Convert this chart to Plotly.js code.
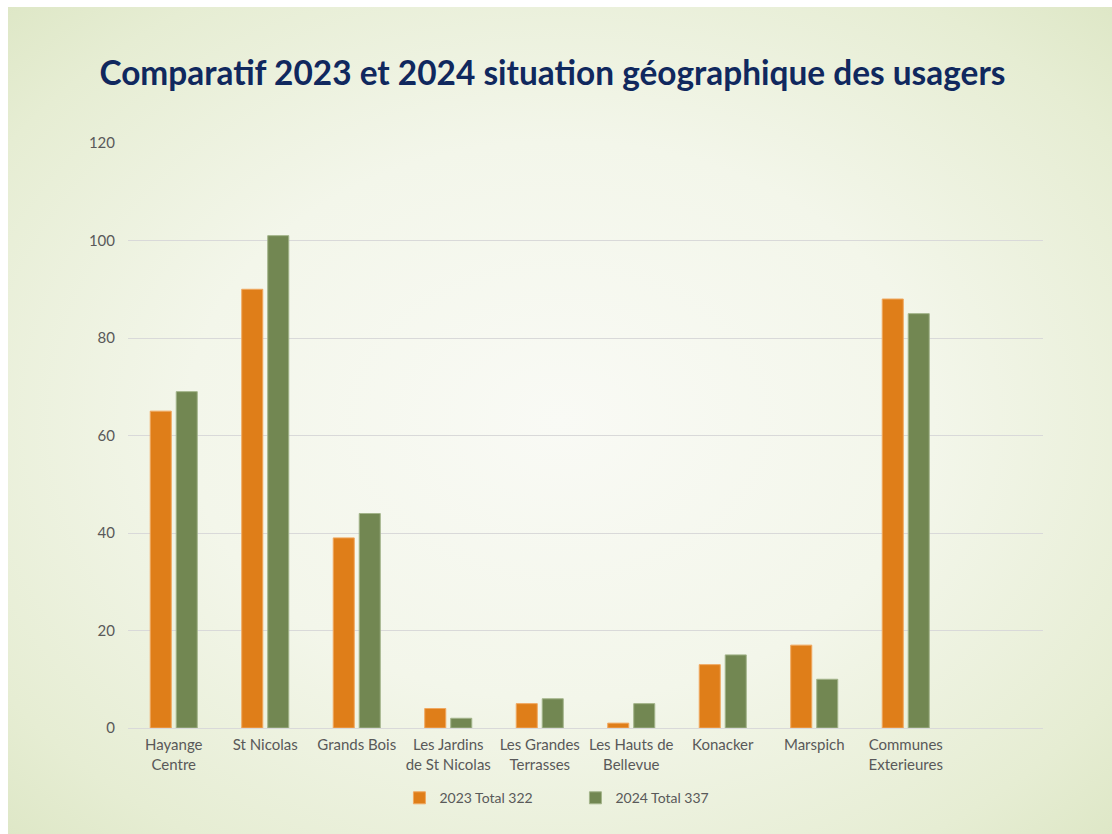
<!DOCTYPE html>
<html>
<head>
<meta charset="utf-8">
<script src="https://cdn.plot.ly/plotly-3.0.1.min.js"></script>
<style>
html, body { margin: 0; padding: 0; background: #ffffff; width: 1112px; height: 834px; overflow: hidden; }
#bg { position: absolute; left: 8px; top: 7px; width: 1104px; height: 827px;
  background: radial-gradient(ellipse 75% 75% at 50% 50%, #f9faf5 0%, #f3f6ea 45%, #e6edd3 80%, #dbe5c2 100%); }
#chart { position: absolute; left: 0; top: 0; width: 1112px; height: 834px; }
</style>
</head>
<body>
<div id="bg"></div>
<div id="chart"></div>
<script>
const categories = ["Hayange<br>Centre", "St Nicolas", "Grands Bois", "Les Jardins<br>de St Nicolas", "Les Grandes<br>Terrasses", "Les Hauts de<br>Bellevue", "Konacker", "Marspich", "Communes<br>Exterieures"];
const values2023 = [65, 90, 39, 4, 5, 1, 13, 17, 88];
const values2024 = [69, 101, 44, 2, 6, 5, 15, 10, 85];
const seriesNames = ["2023 Total 322", "2024 Total 337"];
const yTicks = [0, 20, 40, 60, 80, 100, 120];

const traces = [
  { type: "bar", name: seriesNames[0], x: categories, y: values2023,
    marker: { color: "#df7e19", line: { color: "#f0a860", width: 1 } } },
  { type: "bar", name: seriesNames[1], x: categories, y: values2024,
    marker: { color: "#728752", line: { color: "#a3b48a", width: 1 } } }
];

const layout = {
  width: 1112, height: 834,
  paper_bgcolor: "rgba(0,0,0,0)", plot_bgcolor: "rgba(0,0,0,0)",
  margin: { l: 128, r: 69, t: 143, b: 106 },
  title: { text: "<b>Comparatif 2023 et 2024 situation géographique des usagers</b>",
    font: { family: "Lato, sans-serif", size: 33.4, color: "#10285e" },
    x: 0.4968, xanchor: "center", y: 0.912, yanchor: "middle" },
  barmode: "group", bargap: 0.432, bargroupgap: 0.19,
  font: { family: "Lato, 'Open Sans', sans-serif", size: 15, color: "#595959" },
  xaxis: { type: "category", range: [-0.5, 9.5], showgrid: false, ticks: "", showline: false,
    tickfont: { size: 15, color: "#595959" }, zeroline: false, ticklabelstandoff: 6 },
  yaxis: { range: [0, 120], tickvals: yTicks, showgrid: true, gridcolor: "#d9d9d9", gridwidth: 1,
    zeroline: true, zerolinecolor: "#d9d9d9", zerolinewidth: 1, showline: false, ticks: "",
    ticklen: 0, tickfont: { size: 15, color: "#595959" }, automargin: false, ticklabelstandoff: 12 },
  showlegend: true,
  legend: { orientation: "h", x: 0.489, xanchor: "center", y: -0.12, yanchor: "middle",
    font: { size: 14, color: "#595959" }, entrywidth: 131, entrywidthmode: "pixels",
    bgcolor: "rgba(0,0,0,0)" }
};

Plotly.newPlot("chart", traces, layout, { displayModeBar: false, staticPlot: true });
</script>
</body>
</html>
